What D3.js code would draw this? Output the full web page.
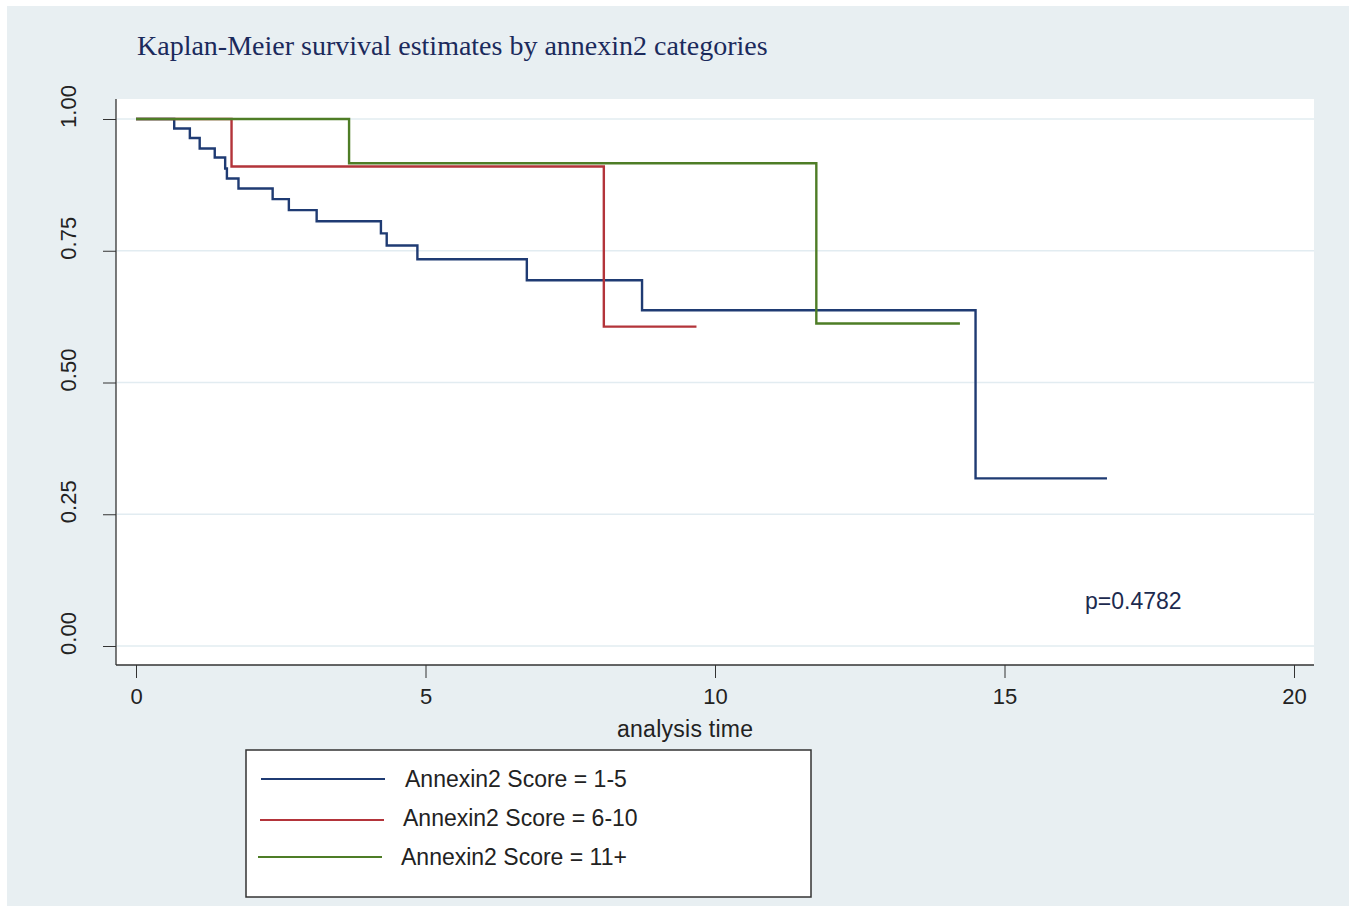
<!DOCTYPE html>
<html>
<head>
<meta charset="utf-8">
<script src="https://cdn.jsdelivr.net/npm/d3@7"></script>
<style>
  body { margin: 0; background: #fff; }
  svg text { font-family: Arial, "Liberation Sans", sans-serif; }
</style>
</head>
<body>
<script>
var w = 1355;
var h = 906;

// Kaplan-Meier step data: time of each drop and survival after it
var seriesNames = ["Annexin2 Score = 1-5", "Annexin2 Score = 6-10", "Annexin2 Score = 11+"];
var seriesColors = ["#1f3b73", "#b3343a", "#4e7d26"];

var blueTimes = [0, 0.66, 0.93, 1.10, 1.36, 1.54, 1.57, 1.77, 2.36, 2.64, 3.12, 4.23, 4.33, 4.86, 6.75, 8.74, 14.50, 16.77];
var blueSurv  = [1, 0.982, 0.964, 0.944, 0.927, 0.906, 0.887, 0.868, 0.848, 0.827, 0.806, 0.783, 0.760, 0.734, 0.694, 0.637, 0.318, 0.318];

var redTimes = [0, 1.65, 8.08, 9.68];
var redSurv  = [1, 0.910, 0.606, 0.606];

var greenTimes = [0, 3.68, 11.75, 14.23];
var greenSurv  = [1, 0.916, 0.612, 0.612];

var xTicks = [0, 5, 10, 15, 20];
var yTicks = [0, 0.25, 0.5, 0.75, 1];

var titleText = "Kaplan-Meier survival estimates by annexin2 categories";
var xLabel = "analysis time";
var pText = "p=0.4782";

var svg = d3.select("body")
    .append("svg")
    .attr("width", w)
    .attr("height", h);

// outer panel
svg.append("rect")
    .attr("x", 7).attr("y", 6)
    .attr("width", 1342).attr("height", 900)
    .attr("fill", "#e8eff2");

// plot area
var plot = {left: 116, right: 1314, top: 99, bottom: 665};
svg.append("rect")
    .attr("x", plot.left).attr("y", plot.top)
    .attr("width", plot.right - plot.left)
    .attr("height", plot.bottom - plot.top)
    .attr("fill", "#ffffff");

var x = d3.scaleLinear().domain([0, 20]).range([136, 1294]);
var y = d3.scaleLinear().domain([0, 1]).range([646, 119]);

// grid
svg.append("g").selectAll("line")
    .data(yTicks)
    .enter().append("line")
    .attr("x1", plot.left + 1).attr("x2", plot.right)
    .attr("y1", function(d) { return y(d); })
    .attr("y2", function(d) { return y(d); })
    .attr("stroke", "#e2ecf1")
    .attr("stroke-width", 1.5);

// y axis
var yAxis = svg.append("g")
    .attr("transform", "translate(" + plot.left + ",0)")
    .call(d3.axisLeft(y).tickValues(yTicks).tickFormat(d3.format(".2f")).tickSize(13).tickPadding(0));
yAxis.select(".domain").attr("d", "M0," + plot.top + "V" + plot.bottom)
    .attr("stroke", "#333").attr("stroke-width", 1.3);
yAxis.selectAll("line").attr("stroke", "#333");
// rotated labels, sitting a little above their tick like the original
yAxis.selectAll(".tick text")
    .attr("transform", "rotate(-90)")
    .attr("x", 13).attr("y", -48).attr("dy", 0)
    .attr("text-anchor", "middle")
    .attr("dominant-baseline", "central")
    .attr("fill", "#222")
    .style("font-size", "22px");

// x axis
var xAxis = svg.append("g")
    .attr("transform", "translate(0," + plot.bottom + ")")
    .call(d3.axisBottom(x).tickValues(xTicks).tickSize(13).tickPadding(10));
xAxis.select(".domain").attr("d", "M" + plot.left + ",0H" + plot.right)
    .attr("stroke", "#333").attr("stroke-width", 1.3);
xAxis.selectAll("line").attr("stroke", "#333");
xAxis.selectAll("text")
    .attr("fill", "#222")
    .style("font-size", "22px");

svg.append("text")
    .attr("x", 685).attr("y", 737)
    .attr("text-anchor", "middle")
    .attr("fill", "#222")
    .style("font-size", "23px")
    .attr("textLength", 136)
    .text(xLabel);

// title
svg.append("text")
    .attr("x", 137).attr("y", 55)
    .attr("fill", "#1b2a5c")
    .style("font-family", "'Liberation Serif', 'Times New Roman', serif")
    .style("font-size", "28px")
    .text(titleText);

// curves
var lineFun = d3.line()
    .x(function(d) { return x(d[0]); })
    .y(function(d) { return y(d[1]); })
    .curve(d3.curveStepAfter);

var allSeries = [
    d3.zip(blueTimes, blueSurv),
    d3.zip(redTimes, redSurv),
    d3.zip(greenTimes, greenSurv)
];

svg.append("g").selectAll("path")
    .data(allSeries)
    .enter().append("path")
    .attr("d", function(d) { return lineFun(d); })
    .attr("fill", "none")
    .attr("stroke", function(d, i) { return seriesColors[i]; })
    .attr("stroke-width", 2.4);

// p value
svg.append("text")
    .attr("x", 1085).attr("y", 609)
    .attr("fill", "#1c2a4e")
    .style("font-size", "23px")
    .text(pText);

// legend
svg.append("rect")
    .attr("x", 246).attr("y", 750)
    .attr("width", 565).attr("height", 147)
    .attr("fill", "#ffffff")
    .attr("stroke", "#333")
    .attr("stroke-width", 1.5);

var legendY = [779, 818, 857];
var legendX = [261, 260, 258];
var legendTextX = [405, 403, 401];
var lg = svg.append("g").selectAll("g")
    .data(seriesNames)
    .enter().append("g");
lg.append("line")
    .attr("x1", function(d, i) { return legendX[i]; })
    .attr("x2", function(d, i) { return legendX[i] + 124; })
    .attr("y1", function(d, i) { return legendY[i] + (i === 1 ? 2 : 0); })
    .attr("y2", function(d, i) { return legendY[i] + (i === 1 ? 2 : 0); })
    .attr("stroke", function(d, i) { return seriesColors[i]; })
    .attr("stroke-width", 2);
lg.append("text")
    .attr("x", function(d, i) { return legendTextX[i]; })
    .attr("y", function(d, i) { return legendY[i] + 8; })
    .attr("fill", "#222")
    .style("font-size", "23px")
    .text(function(d) { return d; });
</script>
</body>
</html>
